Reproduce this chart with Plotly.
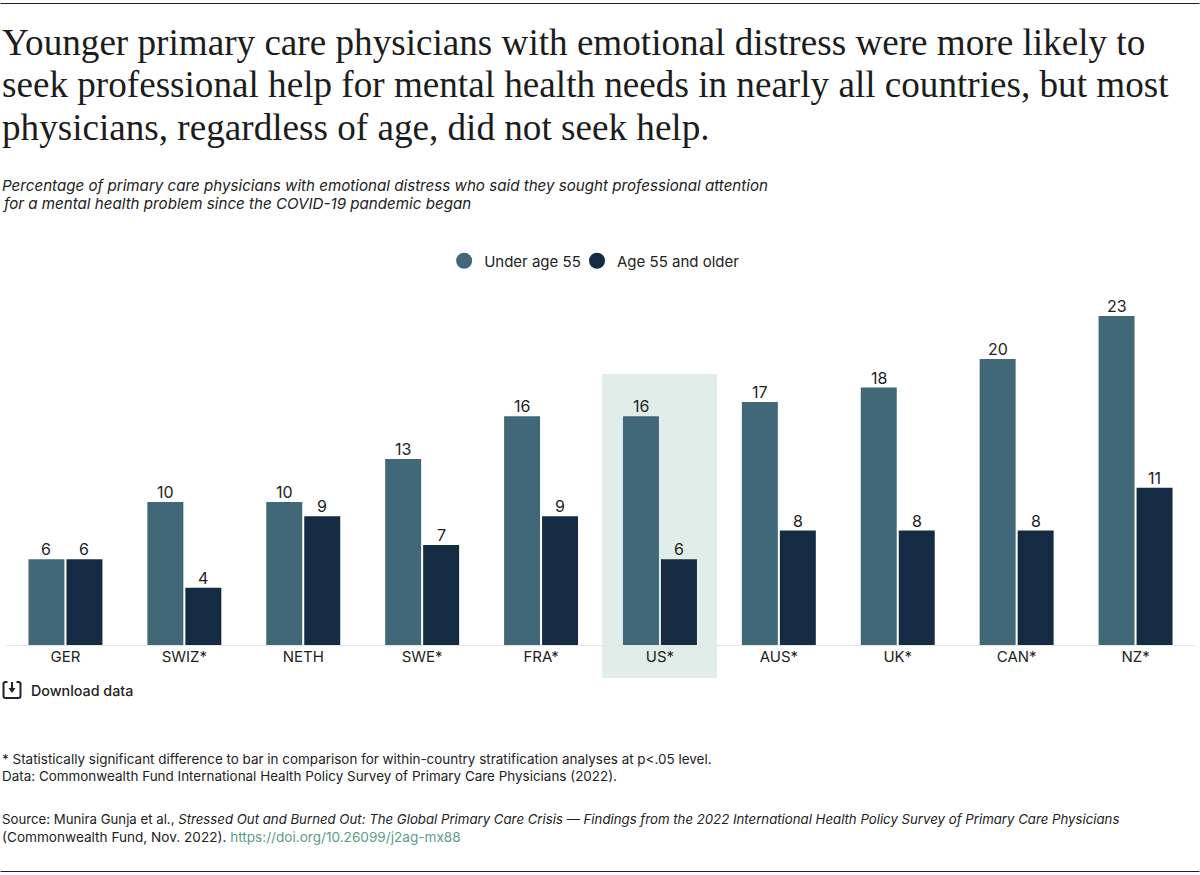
import plotly.graph_objects as go

countries = ["GER", "SWIZ*", "NETH", "SWE*", "FRA*", "US*", "AUS*", "UK*", "CAN*", "NZ*"]
under_55 = [6, 10, 10, 13, 16, 16, 17, 18, 20, 23]
over_55 = [6, 4, 9, 7, 9, 6, 8, 8, 8, 11]

title_lines = [
    "Younger primary care physicians with emotional distress were more likely to",
    "seek professional help for mental health needs in nearly all countries, but most",
    "physicians, regardless of age, did not seek help.",
]
subtitle_lines = [
    "Percentage of primary care physicians with emotional distress who said they sought professional attention",
    "for a mental health problem since the COVID-19 pandemic began",
]
note_lines = [
    "* Statistically significant difference to bar in comparison for within-country stratification analyses at p<.05 level.",
    "Data: Commonwealth Fund International Health Policy Survey of Primary Care Physicians (2022).",
]
source_lines = [
    "Source: Munira Gunja et al., <i>Stressed Out and Burned Out: The Global Primary Care Crisis — Findings from the 2022 International Health Policy Survey of Primary Care Physicians</i>",
    "(Commonwealth Fund, Nov. 2022). <span style='color:#5c9c88'>https://doi.org/10.26099/j2ag-mx88</span>",
]

W, H = 1200, 875
TOP, BASE = 290, 645
LEFT, RIGHT = 5.5, 1195.5
FONT = "Inter"
TEXT = "#222222"
LIGHT = "#416879"
DARK = "#152b43"


def xp(x):
    return (x - LEFT) / (RIGHT - LEFT)


def yp(y):
    return 1 - (y - TOP) / (BASE - TOP)


fig = go.Figure()
fig.add_bar(x=countries, y=under_55, name="Under age 55", marker_color=LIGHT, showlegend=False)
fig.add_bar(x=countries, y=over_55, name="Age 55 and older", marker_color=DARK, showlegend=False)
fig.update_traces(marker_line_width=0)

# bar labels as annotations, the built-in outside text sits too far from the bar
for vals, shift in [(under_55, -19), (over_55, 19)]:
    for c, v in zip(countries, vals):
        fig.add_annotation(x=c, y=v, text=str(v), showarrow=False, xshift=shift, yshift=10, yanchor="middle",
                           font=dict(family=FONT, size=16, color=TEXT), borderpad=0)

# round swatches, one legend per item so the spacing can be set
fig.add_scatter(x=[None], y=[None], mode="markers", name="Under age 55", legend="legend",
                marker=dict(color=LIGHT, size=16, symbol="circle"))
fig.add_scatter(x=[None], y=[None], mode="markers", name="Age 55 and older", legend="legend2",
                marker=dict(color=DARK, size=16, symbol="circle"))

legend_font = dict(family=FONT, size=15, color=TEXT)
no_bg = "rgba(0,0,0,0)"
fig.update_layout(
    width=W, height=H,
    margin=dict(l=LEFT, r=W - RIGHT, t=TOP, b=H - BASE, pad=0),
    paper_bgcolor="white", plot_bgcolor=no_bg,
    barmode="group", bargap=0.361, bargroupgap=0.053,
    font=dict(family=FONT, size=15, color=TEXT),
    legend=dict(x=xp(444), xanchor="left", y=yp(261), yanchor="middle", font=legend_font, bgcolor=no_bg),
    legend2=dict(x=xp(577), xanchor="left", y=yp(261), yanchor="middle", font=legend_font, bgcolor=no_bg),
    xaxis=dict(showgrid=False, zeroline=False, showline=False, ticks="",
               tickfont=dict(family=FONT, size=15, color=TEXT),
               type="category", range=[-0.5, 9.5], ticklabelstandoff=1),
    yaxis=dict(range=[0, (BASE - TOP) / 14.3], visible=False, fixedrange=True),
)

# US highlight, drawn behind the bars
fig.add_shape(type="rect", xref="x", yref="paper", x0=4.515, x1=5.48, y0=yp(678), y1=yp(374),
              fillcolor="#e0ede8", line_width=0, layer="below")
# baseline and the top/bottom rules
fig.add_shape(type="line", xref="paper", yref="paper", x0=0, x1=1, y0=yp(645.5), y1=yp(645.5),
              line=dict(color="#e6e6e6", width=1), layer="below")
for y in [3.5, 871.5]:
    fig.add_shape(type="line", xref="paper", yref="paper", x0=xp(0), x1=xp(W), y0=yp(y), y1=yp(y),
                  line=dict(color="#222222", width=1))


def add_text(x, y, text, size, family=FONT, color=TEXT, weight=None):
    fig.add_annotation(xref="paper", yref="paper", x=xp(x), y=yp(y), text=text,
                       showarrow=False, xanchor="left", yanchor="middle", align="left",
                       font=dict(family=family, size=size, color=color, weight=weight), borderpad=0)


for y, line in zip([42, 85, 128], title_lines):
    add_text(0, y, line, 37.15, family="Liberation Serif", color="#1c1c1c")
for y, line in zip([185, 204], subtitle_lines):
    add_text(0, y, f"<i>{line}</i>", 15.15)
for y, line in zip([759, 776], note_lines):
    add_text(0, y, line, 13.45)
add_text(0, 819, source_lines[0], 13.23)
add_text(0, 837, source_lines[1], 13.6)
add_text(30, 690, "Download data", 14.3, weight=500)

# download icon
def pt(a, b):
    return f"{xp(a)} {yp(b)}"


tray_path = (f"M {pt(7, 682)} L {pt(5, 682)} Q {pt(3, 682)} {pt(3, 684)} L {pt(3, 696)} Q {pt(3, 698)} {pt(5, 698)} "
             f"L {pt(18, 698)} Q {pt(20, 698)} {pt(20, 696)} L {pt(20, 684)} Q {pt(20, 682)} {pt(18, 682)} L {pt(16, 682)}")
fig.add_shape(type="path", xref="paper", yref="paper", path=tray_path, line=dict(color=TEXT, width=2))
fig.add_shape(type="line", xref="paper", yref="paper", x0=xp(11.5), x1=xp(11.5), y0=yp(682), y1=yp(689),
              line=dict(color=TEXT, width=2))
head_path = f"M {pt(8, 688)} L {pt(15, 688)} L {pt(11.5, 693)} Z"
fig.add_shape(type="path", xref="paper", yref="paper", path=head_path, fillcolor=TEXT, line_width=0)

# the page's default body margin would shift everything by 8px
fig.write_html("out.html", config={"displayModeBar": False}, post_script="document.body.style.margin = '0';")
